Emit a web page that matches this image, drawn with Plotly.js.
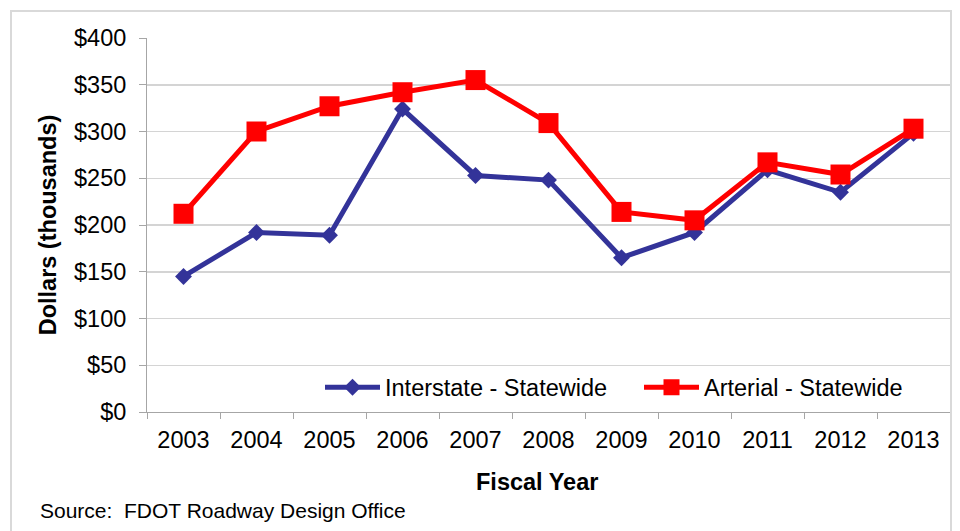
<!DOCTYPE html>
<html>
<head>
<meta charset="utf-8">
<script src="https://cdn.plot.ly/plotly-3.0.1.min.js"></script>
<style>
  body { margin: 0; background: #fff; }
  #plot { width: 960px; height: 531px; }
</style>
</head>
<body>
<div id="plot"></div>
<script>
// fiscal years and cost per mile (thousands of dollars)
const years = ['2003', '2004', '2005', '2006', '2007', '2008', '2009', '2010', '2011', '2012', '2013'];
const interstate = [145, 192, 189, 324, 253, 248, 165, 192, 259, 235, 298];
const arterial = [212, 300, 327, 342, 355, 309, 214, 205, 267, 254, 303];
const yTicks = [0, 50, 100, 150, 200, 250, 300, 350, 400];
const yTickText = yTicks.map(v => '$' + v);

const FONT = '"Liberation Sans", Arial, sans-serif';

const traceInterstate = {
    x: years,
    y: interstate,
    name: 'Interstate - Statewide',
    mode: 'lines+markers',
    type: 'scatter',
    legend: 'legend',
    line: { color: '#333399', width: 5 },
    marker: { symbol: 'diamond', size: 13, color: '#333399' }
};

const traceArterial = {
    x: years,
    y: arterial,
    name: 'Arterial - Statewide',
    mode: 'lines+markers',
    type: 'scatter',
    legend: 'legend2',
    line: { color: '#ff0000', width: 5 },
    marker: { symbol: 'square', size: 20, color: '#ff0000' }
};

// plot area is 147..950 x 38..412.5 px, helpers to place things in paper coords
const px = x => (x - 147) / 803;
const py = y => (412.5 - y) / 374.5;

// one legend per series so each entry sits where it does in the original
function legendAt(x) {
    return {
        x: px(x), y: py(388),
        xanchor: 'left', yanchor: 'middle',
        bgcolor: 'rgba(0,0,0,0)',
        itemwidth: 55,
        font: { size: 23.5 }
    };
}

const layout = {
    width: 960,
    height: 531,
    margin: { l: 147, r: 10, t: 38, b: 118.5 },
    paper_bgcolor: '#fff',
    plot_bgcolor: '#fff',
    font: { family: FONT, size: 23.5, color: '#000' },
    showlegend: true,
    legend: legendAt(320),
    legend2: legendAt(639),
    xaxis: {
        type: 'category',
        range: [-0.5, 10.5],
        showline: true,
        linecolor: '#a6a6a6',
        linewidth: 1,
        ticks: 'outside',
        tickson: 'boundaries',
        ticklen: 6,
        tickcolor: '#a6a6a6',
        ticklabelstandoff: 7,
        showgrid: false,
        zeroline: false
    },
    yaxis: {
        range: [0, 400],
        tickvals: yTicks,
        ticktext: yTickText,
        showline: true,
        linecolor: '#a6a6a6',
        linewidth: 1,
        ticks: 'outside',
        ticklen: 7,
        tickcolor: '#a6a6a6',
        ticklabelstandoff: 8,
        gridcolor: '#d4d4d4',
        gridwidth: 1.5,
        zeroline: false,
        title: { text: '<b>Dollars (thousands)</b>', standoff: 10, font: { size: 23.5 } }
    },
    annotations: [{
        text: '<b>Fiscal Year</b>',
        xref: 'paper', yref: 'paper',
        x: px(537), y: py(483),
        xanchor: 'center', yanchor: 'middle',
        showarrow: false,
        font: { size: 23.5 }
    }, {
        text: 'Source:  FDOT Roadway Design Office',
        xref: 'paper', yref: 'paper',
        x: px(38), y: py(510.7),
        xanchor: 'left', yanchor: 'middle',
        showarrow: false,
        font: { size: 21 }
    }],
    shapes: [{
        type: 'rect',
        xref: 'paper', yref: 'paper',
        x0: px(11), x1: px(951),
        y0: py(560), y1: py(11),
        line: { color: '#d9d9d9', width: 2 },
        fillcolor: 'rgba(0,0,0,0)'
    }]
};

Plotly.newPlot('plot', [traceInterstate, traceArterial], layout, { displayModeBar: false, staticPlot: true });
</script>
</body>
</html>
